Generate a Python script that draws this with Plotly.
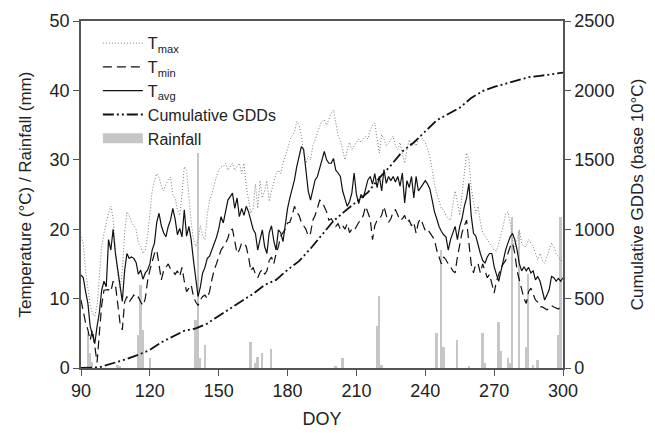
import plotly.graph_objects as go

doy = list(range(90, 301))

tavg = [13.4, 13.0, 11.0, 9.3, 6.0, 4.8, 3.5, 6.0, 8.0, 11.2,
        12.5, 11.7, 18.5, 17.0, 20.0, 16.5, 14.0, 11.5, 9.6, 14.0,
        16.5, 15.8, 16.0, 15.8, 15.2, 13.5, 14.1, 12.8, 13.7, 14.1,
        15.0, 17.0, 18.0, 21.0, 22.3, 20.5, 19.5, 18.9, 20.4, 21.3,
        23.0, 21.5, 19.2, 20.1, 18.9, 22.8, 19.0, 20.4, 18.5, 15.5,
        12.5, 10.3, 11.7, 13.7, 14.5, 15.8, 16.1, 17.0, 17.8, 18.8,
        20.0, 21.8, 20.9, 22.8, 24.2, 24.7, 25.2, 23.0, 24.5, 21.8,
        23.0, 22.0, 23.3, 22.5, 21.0, 20.0, 19.4, 17.0, 18.5, 19.9,
        17.5, 16.5, 19.5, 20.5, 18.3, 17.0, 19.9, 19.5, 18.2, 20.5,
        23.0, 24.5, 25.7, 27.1, 29.0, 30.5, 31.9, 31.5, 28.5, 25.5,
        24.2, 25.5, 27.1, 27.6, 29.0, 30.0, 31.2, 30.0, 29.5, 29.5,
        30.2, 28.5, 28.1, 27.6, 25.5, 24.2, 23.3, 24.0, 25.2, 28.1,
        25.0, 23.7, 25.0, 24.5, 26.0, 27.1, 27.6, 26.5, 28.0, 26.0,
        27.6, 25.5, 28.6, 26.6, 27.6, 27.0, 27.6, 26.8, 27.6, 26.2,
        28.1, 23.8, 27.0, 26.0, 27.6, 24.5, 27.6, 25.5, 26.0, 26.6,
        27.0, 26.5, 25.8, 24.2, 22.5, 21.5, 20.4, 19.7, 19.2, 18.9,
        17.0, 18.5, 19.5, 20.4, 18.5, 20.4, 21.5, 23.3, 24.5, 26.6,
        22.0, 19.4, 19.0, 17.5, 16.5, 15.5, 15.1, 16.0, 16.5, 16.5,
        14.6, 13.5, 12.5, 14.0, 15.5, 17.0, 18.0, 18.9, 19.4, 18.5,
        17.0, 15.0, 14.0, 14.6, 14.0, 14.5, 13.7, 14.0, 12.7, 13.2,
        12.5, 11.0, 9.8, 10.5, 11.3, 13.2, 13.0, 12.5, 12.9, 12.5,
        13.0]

tmin = [9.8, 7.9, 6.5, 5.5, 4.0, 5.5, 3.0, 0.8, 5.0, 9.0,
        11.2, 11.2, 11.3, 11.0, 12.5, 12.0, 9.0, 6.5, 5.5, 9.5,
        10.3, 9.5, 10.0, 10.5, 10.0, 10.2, 9.5, 9.0, 10.0, 12.5,
        14.1, 15.5, 16.5, 17.0, 15.0, 12.7, 14.0, 14.5, 15.0, 14.3,
        14.0, 13.5, 14.0, 13.2, 14.5, 12.5, 11.0, 11.5, 12.0, 10.3,
        9.5, 9.0, 9.8, 10.3, 10.5, 10.0, 11.0, 12.7, 14.1, 15.0,
        16.0, 17.0, 17.5, 18.0, 18.7, 19.9, 20.0, 18.0, 16.5, 17.0,
        18.0, 18.0, 17.5, 16.0, 14.0, 14.5, 13.5, 13.0, 13.8, 14.2,
        13.5, 14.0, 15.5, 16.0, 15.0, 16.5, 17.5, 19.0, 19.5, 20.0,
        20.9, 21.0, 22.0, 23.3, 22.5, 22.0, 21.0, 20.4, 20.0, 19.0,
        19.4, 21.3, 22.0, 23.0, 24.2, 24.0, 23.3, 22.5, 21.3, 21.5,
        21.0, 20.4, 20.8, 20.0, 20.5, 20.0, 20.8, 19.5, 20.0, 19.8,
        20.4, 21.0, 21.3, 22.0, 23.3, 22.5, 21.5, 18.5, 20.5, 21.3,
        21.5, 22.0, 23.3, 22.0, 21.0, 21.5, 22.5, 22.8, 22.0, 21.3,
        21.5, 22.0, 21.0, 21.3, 20.5, 21.0, 19.4, 21.0, 21.5, 20.5,
        19.8, 20.0, 19.5, 19.0, 18.5, 17.0, 16.0, 15.0, 16.0, 15.6,
        15.0, 14.6, 14.0, 13.7, 16.0, 18.0, 19.5, 20.5, 21.3, 18.0,
        15.0, 13.7, 15.0, 15.0, 13.7, 15.0, 14.0, 13.0, 13.5, 12.2,
        10.8, 12.5, 13.5, 14.5, 15.0, 15.5, 16.5, 17.5, 18.0, 16.5,
        14.0, 12.7, 11.0, 10.0, 9.3, 11.0, 11.5, 10.5, 9.8, 9.5,
        8.8, 8.8, 8.6, 8.4, 8.6, 9.0, 8.8, 8.6, 8.5, 8.8,
        8.8]

tmax = [18.9, 18.0, 14.0, 11.2, 9.0, 7.9, 7.5, 9.0, 12.7, 17.5,
        19.4, 21.0, 22.3, 23.3, 21.5, 17.0, 13.5, 11.2, 14.0, 19.4,
        22.5, 22.0, 21.0, 20.5, 20.0, 18.0, 17.5, 16.5, 17.0, 19.0,
        22.8, 25.5, 27.0, 28.0, 27.5, 26.2, 25.5, 26.5, 27.1, 27.5,
        25.0, 24.5, 22.8, 22.0, 25.0, 29.0, 28.5, 24.5, 21.0, 18.5,
        17.5, 18.5, 20.5, 19.0, 18.5, 22.0, 24.2, 25.0, 26.5, 27.6,
        28.5, 29.0, 29.0, 29.5, 28.5, 29.0, 29.5, 28.5, 29.0, 29.5,
        28.0, 29.5, 26.2, 24.5, 22.3, 23.0, 26.5, 23.0, 27.0, 24.5,
        25.5, 27.0, 24.0, 25.5, 27.0, 28.0, 28.5, 28.0, 29.5, 30.5,
        31.5, 32.9, 33.5, 34.0, 35.5, 35.0, 33.5, 31.0, 29.5, 30.5,
        30.0, 32.0, 32.9, 34.0, 34.8, 35.5, 35.8, 35.0, 36.0, 36.7,
        37.2, 35.5, 33.5, 32.9, 31.5, 30.0, 31.5, 32.5, 31.5, 32.0,
        32.4, 33.0, 32.5, 33.0, 33.4, 33.0, 34.3, 35.0, 35.3, 33.0,
        31.0, 33.6, 33.0, 32.0, 32.5, 33.0, 33.4, 32.0, 31.5, 32.5,
        31.0, 29.5, 31.5, 32.9, 32.0, 32.5, 32.0, 33.0, 33.4, 33.0,
        32.5, 31.5, 30.5, 28.6, 26.5, 25.2, 24.0, 23.0, 22.8, 22.0,
        21.5, 21.3, 23.5, 25.5, 24.0, 22.0, 25.0, 28.0, 31.0, 30.0,
        26.0, 24.0, 22.3, 23.3, 21.0, 19.5, 19.0, 18.5, 17.9, 17.5,
        17.0, 16.8, 18.0, 19.0, 20.5, 22.3, 22.5, 21.0, 18.5, 17.5,
        18.5, 19.9, 18.0, 17.5, 17.5, 18.5, 18.0, 17.5, 16.5, 15.6,
        16.5, 15.5, 15.1, 16.0, 17.0, 18.0, 17.5, 16.5, 16.0, 15.5,
        15.5]

gdd_doy = [90, 95, 98, 100, 105, 110, 115, 120, 125, 130, 135, 140, 145, 150,
           155, 160, 165, 170, 175, 180, 185, 190, 195, 200, 205, 210, 215,
           220, 225, 230, 235, 240, 245, 250, 255, 260, 265, 270, 275, 280,
           285, 290, 295, 300]
gdd = [0, 0, 5, 15, 38, 65, 95, 130, 185, 226, 268, 285, 320, 375,
       428, 478, 535, 598, 635, 707, 770, 860, 960, 1060, 1130, 1200, 1265,
       1370, 1460, 1560, 1625, 1705, 1785, 1830, 1875, 1945, 1995, 2025, 2050, 2075,
       2095, 2105, 2114, 2128]

rain_doy = [93, 94, 95, 106, 107, 115, 116, 117, 120, 140, 141, 142, 144,
            164, 166, 167, 169, 173, 201, 204, 219, 220, 221, 245, 247, 248,
            254, 259, 265, 266, 272, 273, 276, 277, 278, 281, 284, 285, 287,
            289, 298, 299]
rain = [5.0, 2.1, 0.8, 0.5, 0.3, 4.8, 12.0, 5.5, 1.4, 6.9, 31.0, 1.4, 3.3,
        3.8, 0.7, 1.6, 2.1, 2.8, 0.3, 1.4, 6.0, 10.4, 0.4, 5.0, 17.0, 3.0,
        4.1, 0.2, 5.1, 0.7, 6.7, 2.4, 1.5, 0.7, 21.8, 19.8, 3.0, 13.5, 0.4,
        1.2, 4.8, 21.8]

assert len(tavg) == len(doy) == len(tmin) == len(tmax)
assert len(gdd) == len(gdd_doy) and len(rain) == len(rain_doy)

FONT = "Liberation Sans, Arial, Helvetica, sans-serif"
TXT = "#222222"
AX = "#555555"
RAINC = "#c6c6c6"

fig = go.Figure()
fig.add_trace(go.Bar(x=rain_doy, y=rain, width=0.75, marker=dict(color=RAINC, line=dict(width=0)),
                     name="Rainfall", showlegend=False, yaxis="y"))
fig.add_trace(go.Scatter(x=doy, y=tmax, mode="lines", name="T<sub>max</sub>",
                         line=dict(color="#7a7a7a", width=1, dash="1px,2px"), legendrank=1))
fig.add_trace(go.Scatter(x=doy, y=tmin, mode="lines", name="T<sub>min</sub>",
                         line=dict(color="#111111", width=1.2, dash="9px,5px"), legendrank=2))
fig.add_trace(go.Scatter(x=doy, y=tavg, mode="lines", name="T<sub>avg</sub>",
                         line=dict(color="#111111", width=1.2), legendrank=3))
fig.add_trace(go.Scatter(x=gdd_doy, y=gdd, mode="lines", name="Cumulative GDDs", yaxis="y2",
                         line=dict(color="#111111", width=1.8, dash="11px,3px,2px,3px,2px,3px"),
                         legendrank=4))
fig.add_trace(go.Scatter(x=[None], y=[None], mode="lines", name="Rainfall",
                         line=dict(color=RAINC, width=10), legendrank=5))

fig.update_layout(
    width=655, height=436,
    margin=dict(l=81, r=92, t=21, b=68, autoexpand=False),
    paper_bgcolor="white", plot_bgcolor="white",
    font=dict(family=FONT, size=18, color=TXT),
    showlegend=True,
    legend=dict(x=0.035, y=0.985, xanchor="left", yanchor="top", bgcolor="rgba(0,0,0,0)",
                font=dict(size=16, family=FONT, color=TXT), tracegroupgap=0,
                itemwidth=40, traceorder="normal"),
    xaxis=dict(range=[90, 300], tickvals=[90, 120, 150, 180, 210, 240, 270, 300],
               ticks="outside", ticklen=6, tickcolor=AX, tickwidth=1.2,
               showline=True, linecolor=AX, linewidth=1.5, mirror=True,
               showgrid=False, zeroline=False, automargin=False,
               title=dict(text="DOY", standoff=12, font=dict(size=18))),
    yaxis=dict(range=[0, 50], tickvals=[0, 10, 20, 30, 40, 50],
               ticks="outside", ticklen=6, tickcolor=AX, tickwidth=1.2,
               showline=True, linecolor=AX, linewidth=1.5,
               showgrid=False, zeroline=False, automargin=False,
               title=dict(text="Temperature (°C) / Rainfall (mm)", standoff=14, font=dict(size=17))),
    yaxis2=dict(range=[0, 2500], tickvals=[0, 500, 1000, 1500, 2000, 2500],
                overlaying="y", side="right",
                ticks="outside", ticklen=6, tickcolor=AX, tickwidth=1.2,
                showline=True, linecolor=AX, linewidth=1.5,
                showgrid=False, zeroline=False, automargin=False,
                title=dict(text="Cumulative GDDs (base 10°C)", standoff=18, font=dict(size=17))),
    bargap=0,
)

fig.write_html("out.html")
